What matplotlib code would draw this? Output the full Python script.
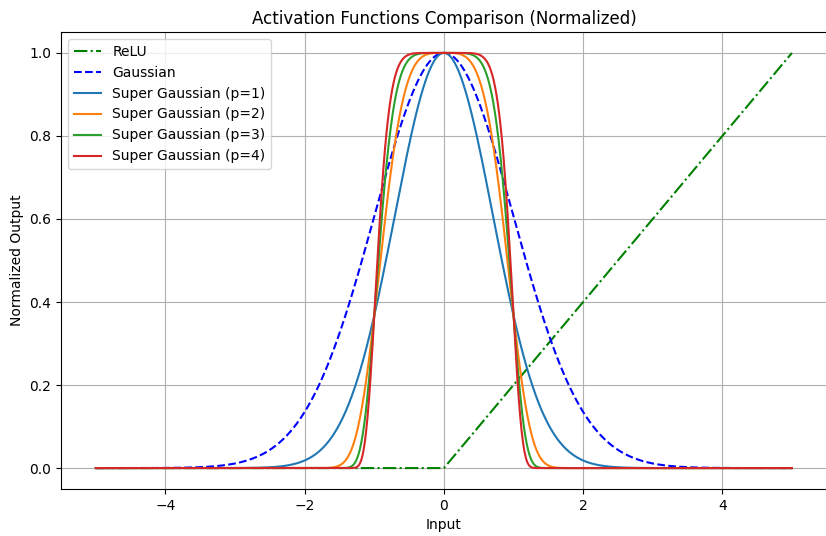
import numpy as np
import matplotlib.pyplot as plt

# input range and curve parameters
x_min, x_max = -5, 5
n_points = 1000
gauss_sigma = 1.0
orders = [1, 2, 3, 4]

x = np.linspace(x_min, x_max, n_points)
relu = np.maximum(0, x)
relu = relu / relu.max()
gauss = np.exp(-x**2 / (2 * gauss_sigma**2))

fig = plt.figure(figsize=(8.26, 5.36), dpi=100)
ax = fig.add_axes([0.0739, 0.088, 0.927, 0.852])

ax.plot(x, relu, 'g-.', label='ReLU')
ax.plot(x, gauss, 'b--', label='Gaussian')
for p in orders:
    ax.plot(x, np.exp(-(x**2)**p), label=f'Super Gaussian (p={p})')

ax.set_title('Activation Functions Comparison (Normalized)')
ax.set_xlabel('Input')
ax.set_ylabel('Normalized Output')
ax.grid(True)
ax.legend(loc='upper left')

fig.savefig('out.png', dpi=100)
